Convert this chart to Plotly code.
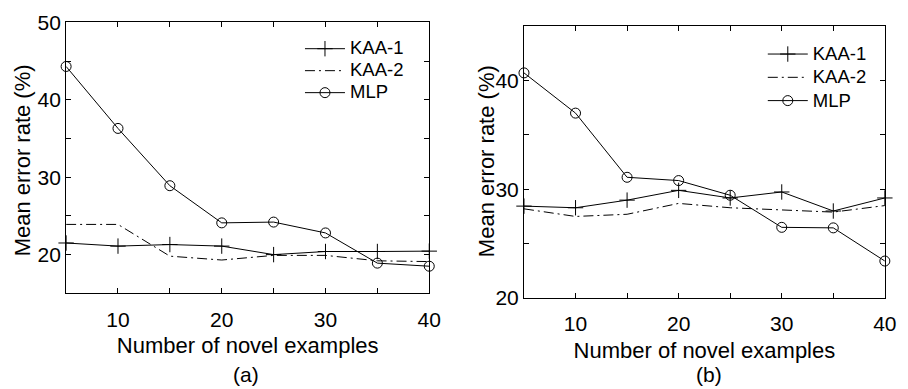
import plotly.graph_objects as go

# ---- data ----
n_examples = [5, 10, 15, 20, 25, 30, 35, 40]

a_kaa1 = [21.5, 21.1, 21.3, 21.1, 20.0, 20.4, 20.4, 20.45]
a_kaa2 = [23.9, 23.9, 19.8, 19.3, 19.9, 19.9, 19.2, 19.1]
a_mlp = [44.3, 36.3, 28.9, 24.1, 24.2, 22.8, 18.9, 18.5]

b_kaa1 = [28.45, 28.3, 29.0, 29.9, 29.2, 29.75, 28.0, 29.2]
b_kaa2 = [28.2, 27.5, 27.7, 28.7, 28.3, 28.1, 27.9, 28.5]
b_mlp = [40.7, 37.0, 31.1, 30.8, 29.45, 26.5, 26.45, 23.4]

series_names = ["KAA-1", "KAA-2", "MLP"]
x_ticks = [10, 20, 30, 40]
a_y_ticks = [20, 30, 40, 50]
b_y_ticks = [20, 30, 40]
x_title = "Number of novel examples"
y_title = "Mean error rate (%)"
panel_labels = ["(a)", "(b)"]

W, H = 908, 389
FONT = "Liberation Sans, Arial, Helvetica, sans-serif"
BLACK = "#000000"
LEGEND_TEXT_PX = 18.5


def legend_label(name):
    # larger glyphs than the legend's row pitch font, so rows stay tight
    return f'<span style="font-size:{LEGEND_TEXT_PX}px">{name}</span>'


fig = go.Figure()


def add_panel(kaa1, kaa2, mlp, xa, ya, legend):
    fig.add_trace(go.Scatter(
        x=n_examples, y=kaa1, name=legend_label(series_names[0]), mode="lines+markers",
        line=dict(color=BLACK, width=1),
        marker=dict(symbol="cross-thin", size=11, line=dict(color=BLACK, width=1)),
        xaxis=xa, yaxis=ya, legend=legend, cliponaxis=False))
    fig.add_trace(go.Scatter(
        x=n_examples, y=kaa2, name=legend_label(series_names[1]), mode="lines",
        line=dict(color=BLACK, width=1, dash="10px,4px,2px,4px"),
        xaxis=xa, yaxis=ya, legend=legend, cliponaxis=False))
    fig.add_trace(go.Scatter(
        x=n_examples, y=mlp, name=legend_label(series_names[2]), mode="lines+markers",
        line=dict(color=BLACK, width=1),
        marker=dict(symbol="circle-open", size=10, color=BLACK, line=dict(color=BLACK, width=1)),
        xaxis=xa, yaxis=ya, legend=legend, cliponaxis=False))


add_panel(a_kaa1, a_kaa2, a_mlp, "x", "y", "legend")
add_panel(b_kaa1, b_kaa2, b_mlp, "x2", "y2", "legend2")

axis_common = dict(
    showline=True, linecolor=BLACK, linewidth=1, mirror="ticks",
    ticks="inside", ticklen=5, tickwidth=1, tickcolor=BLACK,
    showgrid=False, zeroline=False, ticklabeloverflow="allow",
    tickfont=dict(family=FONT, size=21, color=BLACK),
    minor=dict(ticks="inside", ticklen=5, tickwidth=1, tickcolor=BLACK, dtick=5, tick0=0, showgrid=False),
)

text_font = dict(family=FONT, size=22, color=BLACK)

fig.update_layout(
    width=W, height=H,
    margin=dict(l=0, r=0, t=0, b=0),
    paper_bgcolor="white", plot_bgcolor="white",
    font=dict(family=FONT, color=BLACK),
    xaxis=dict(domain=[67 / W, 435 / W], range=[5, 40], tickvals=x_ticks, anchor="y",
               ticklabelstandoff=7,
               title=dict(text=x_title, font=text_font, standoff=8), **axis_common),
    yaxis=dict(domain=[1 - 299 / H, 1 - 11 / H], range=[15, 50], tickvals=a_y_ticks, anchor="x",
               **axis_common),
    xaxis2=dict(domain=[531 / W, 896.7 / W], range=[5, 40], tickvals=x_ticks, anchor="y2",
                ticklabelstandoff=7,
                title=dict(text=x_title, font=text_font, standoff=8), **axis_common),
    yaxis2=dict(domain=[1 - 304 / H, 1 - 15 / H], range=[20, 45], tickvals=b_y_ticks, anchor="x2",
                **axis_common),
    legend=dict(x=304 / W, y=1 - 22 / H, xanchor="left", yanchor="top",
                font=dict(family=FONT, size=14.6, color=BLACK), bgcolor="rgba(0,0,0,0)",
                tracegroupgap=0, itemwidth=40),
    legend2=dict(x=773 / W, y=1 - 27 / H, xanchor="left", yanchor="top",
                 font=dict(family=FONT, size=15.6, color=BLACK), bgcolor="rgba(0,0,0,0)",
                 tracegroupgap=0, itemwidth=40),
    annotations=[
        dict(text=y_title, x=23 / W, y=1 - 158 / H, xref="paper", yref="paper", textangle=-90,
             showarrow=False, font=text_font, xanchor="center", yanchor="middle"),
        dict(text=y_title, x=493 / W, y=1 - 158 / H, xref="paper", yref="paper", textangle=-90,
             showarrow=False, font=text_font, xanchor="center", yanchor="middle"),
        dict(text=panel_labels[0], x=249 / W, y=1 - 385 / H, xref="paper", yref="paper",
             showarrow=False, font=dict(family=FONT, size=21, color=BLACK), xanchor="center", yanchor="middle"),
        dict(text=panel_labels[1], x=718 / W, y=1 - 385 / H, xref="paper", yref="paper",
             showarrow=False, font=dict(family=FONT, size=21, color=BLACK), xanchor="center", yanchor="middle"),
    ],
)

fig.write_html("out.html")
